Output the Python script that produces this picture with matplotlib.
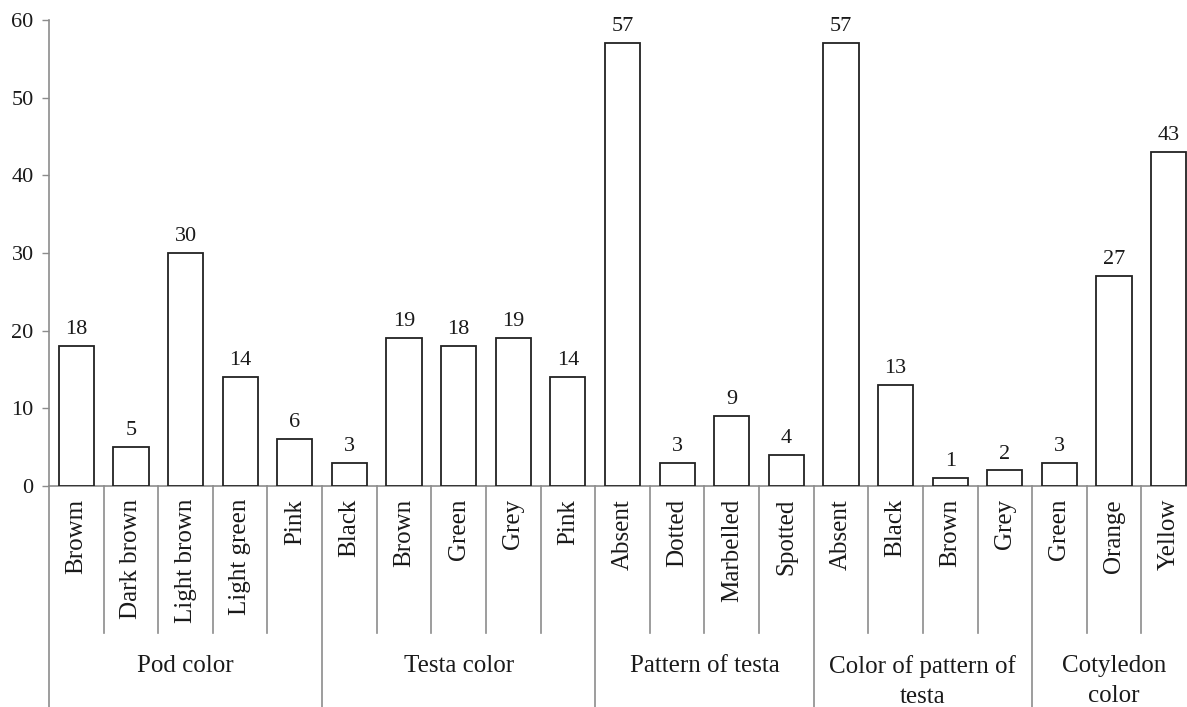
import matplotlib
matplotlib.use("Agg")
import matplotlib.pyplot as plt
import matplotlib.transforms as mtransforms

plt.rcParams['font.family'] = ['Liberation Serif', 'DejaVu Serif']

groups = ["Pod color", "Testa color", "Pattern of testa",
          "Color of pattern of\ntesta", "Cotyledon\ncolor"]
group_categories = [
    ["Browm", "Dark brown", "Light brown", "Light green", "Pink"],
    ["Black", "Brown", "Green", "Grey", "Pink"],
    ["Absent", "Dotted", "Marbelled", "Spotted"],
    ["Absent", "Black", "Brown", "Grey"],
    ["Green", "Orange", "Yellow"],
]
group_values = [
    [18, 5, 30, 14, 6],
    [3, 19, 18, 19, 14],
    [57, 3, 9, 4],
    [57, 13, 1, 2],
    [3, 27, 43],
]
y_ticks = [0, 10, 20, 30, 40, 50, 60]

W, H = 1187, 707
fig = plt.figure(figsize=(W / 100, H / 100), dpi=100)
ax_left, ax_right, ax_top, ax_bot = 49, 1196, 20, 486
ax = fig.add_axes([ax_left / W, (H - ax_bot) / H,
                   (ax_right - ax_left) / W, (ax_bot - ax_top) / H])

labels = [c for g in group_categories for c in g]
values = [v for g in group_values for v in g]
x = list(range(len(values)))

grey = '#8c8c8c'
txt = '#1a1a1a'
fs_num = 16
fs_cat = 18

ax.bar(x, values, width=0.645, facecolor='white', edgecolor='#222222',
       linewidth=1.3, zorder=3)
for xi, v in zip(x, values):
    ax.annotate(str(v), (xi, v), xytext=(0, 5), textcoords='offset points',
                ha='center', va='bottom', fontsize=fs_num, color=txt)

ax.set_xlim(-0.5, len(values) - 0.5)
ax.set_ylim(0, 60)
ax.set_yticks(y_ticks)
ax.tick_params(axis='y', direction='out', length=5, width=1.0, color=grey,
               labelsize=fs_num, labelcolor=txt, pad=6)
ax.set_xticks([])
for s in ['top', 'right']:
    ax.spines[s].set_visible(False)
for s in ['left', 'bottom']:
    ax.spines[s].set_color(grey)
    ax.spines[s].set_linewidth(1.2)

trans = mtransforms.blended_transform_factory(ax.transData, ax.transAxes)
ppu = ax_bot - ax_top
inner_end = -(633 - ax_bot) / ppu
outer_end = -(H + 5 - ax_bot) / ppu
label_top = -(499 - ax_bot) / ppu
group_top = -(655 - ax_bot) / ppu

# category labels
for xi, lab in zip(x, labels):
    ax.text(xi, label_top, lab, transform=trans, rotation=90,
            ha='center', va='top', fontsize=fs_cat, color=txt)

# separators
start = 0
bounds = [-0.5]
for gi, g in enumerate(group_categories):
    n = len(g)
    for k in range(1, n):
        bx = start + k - 0.5
        ax.plot([bx, bx], [0, inner_end], transform=trans, color=grey,
                lw=1.2, clip_on=False)
    bx = start + n - 0.5
    bounds.append(bx)
    ax.text(start + (n - 1) / 2, group_top, groups[gi], transform=trans,
            ha='center', va='top', fontsize=fs_cat, color=txt,
            multialignment='center', linespacing=1.45)
    start += n
for bx in bounds:
    ax.plot([bx, bx], [0, outer_end], transform=trans, color=grey,
            lw=1.2, clip_on=False)

fig.savefig('out.png', dpi=100)
